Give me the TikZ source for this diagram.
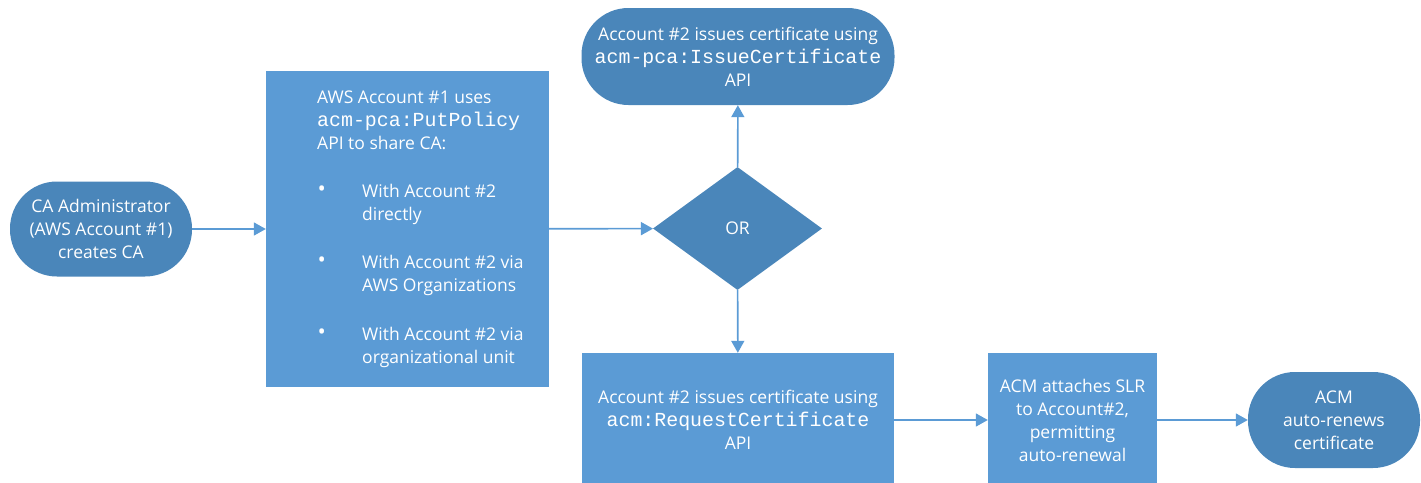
\documentclass[tikz,border=0pt]{standalone}
\usepackage{fontspec}
\setmainfont{Open Sans}
\newfontfamily\apifont{Liberation Mono}
\usetikzlibrary{shapes.geometric,arrows.meta}
\definecolor{stadblue}{HTML}{4A86BA}
\definecolor{boxblue}{HTML}{5B9BD5}
\newcommand{\api}[1]{{\apifont\fontsize{19.9}{23}\selectfont #1}}
\newcommand{\sharebullet}{\makebox[45pt][l]{\hspace{0.5pt}\raisebox{0.5pt}{\fontsize{22}{23}\selectfont\textbullet}}}
\begin{document}
\begin{tikzpicture}[x=1pt,y=1pt,yscale=-1,xscale=1,
    every node/.style={font=\fontsize{17.5}{23}\selectfont,text=white,inner sep=0pt},
    term/.style={rectangle,rounded corners=47pt,fill=stadblue,align=center},
    flowbox/.style={rectangle,fill=boxblue,align=center},
    flow/.style={draw=boxblue,line width=1.6pt,-{Triangle[length=12pt,width=13pt]}}]
    \useasboundingbox (0,0) rectangle (1421,482);

    %Shape: Terminator [id:ca]
    \node[term,minimum width=182pt,minimum height=95pt] (ca) at (101,229)
        {CA Administrator\\(AWS Account \#1)\\creates CA};

    %Shape: Rectangle [id:share]
    \node[flowbox,minimum width=283pt,minimum height=316pt] (share) at (407.5,229) {};
    % Text Node
    \node[anchor=west,align=left] (sharetext) at (317,229) {AWS Account \#1 uses\\
        \api{acm-pca:PutPolicy}\\
        API to share CA:\\[25pt]
        \sharebullet With Account \#2\\
        \hspace*{45pt}directly\\[25pt]
        \sharebullet With Account \#2 via\\
        \hspace*{45pt}AWS Organizations\\[26pt]
        \sharebullet With Account \#2 via\\
        \hspace*{45pt}organizational unit};

    %Shape: Decision [id:or]
    \node[diamond,fill=stadblue,minimum width=169pt,minimum height=123pt] (or) at (737.5,228.5) {OR};

    %Shape: Terminator [id:issue]
    \node[term,minimum width=313pt,minimum height=97pt] (issue) at (738,56.5)
        {Account \#2 issues certificate using\\\api{acm-pca:IssueCertificate}\\API};

    %Shape: Rectangle [id:request]
    \node[flowbox,minimum width=312pt,minimum height=134pt] (request) at (738,420)
        {Account \#2 issues certificate using\\\api{acm:RequestCertificate}\\API};

    %Shape: Rectangle [id:slr]
    \node[flowbox,minimum width=169pt,minimum height=134pt] (slr) at (1072.5,420)
        {ACM attaches SLR\\to Account\#2,\\permitting\\auto-renewal};

    %Shape: Terminator [id:renew]
    \node[term,minimum width=172pt,minimum height=96pt] (renew) at (1334,420)
        {ACM\\auto-renews\\certificate};

    % Connectors
    \draw[flow] (ca) -- (share);
    \draw[flow] (share) -- (or);
    \draw[flow] (or) -- (issue);
    \draw[flow] (or) -- (request);
    \draw[flow] (request) -- (slr);
    \draw[flow] (slr) -- (renew);
\end{tikzpicture}
\end{document}
